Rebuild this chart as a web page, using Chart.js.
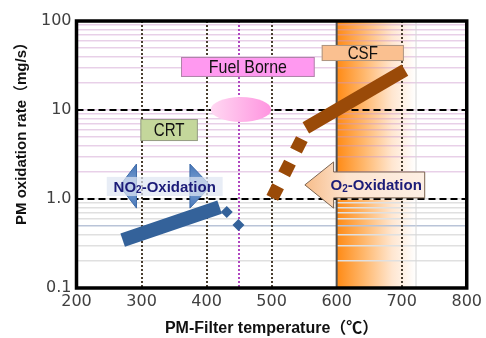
<!DOCTYPE html>
<html>
<head>
<meta charset="utf-8">
<script src="https://cdn.jsdelivr.net/npm/chart.js@4.4.0/dist/chart.umd.min.js"></script>
<style>
  html, body { margin: 0; padding: 0; background: #fff; }
  #wrap { width: 486px; height: 338px; position: relative; }
</style>
</head>
<body>
<div id="wrap"><canvas id="chart"></canvas></div>
<script>
// ---- values ----
const xTicks = [200, 300, 400, 500, 600, 700, 800];
const yMajor = [0.1, 1, 10, 100];
const yMajorLabels = ['0.1', '1.0', '10', '100'];

// NO2 oxidation path (blue bar) and the two loose points
const no2Temp = [271, 420];
const no2Rate = [0.346, 0.813];
const no2PtTemp = [431, 449];
const no2PtRate = [0.714, 0.51];

// O2 oxidation path: dashed rise, then solid bar
const o2DashTemp = [501, 546.5];
const o2DashRate = [1.03, 4.72];
const o2Temp = [552.6, 705];
const o2Rate = [6.28, 28.1];

// reference lines
const refRates = [1, 10];               // black dashed
const refTemps = [300, 400, 500, 700];  // dark dotted
const fuelTemp = [450];                 // purple dotted
const csfBand = [600, 722];             // orange window

// label boxes (data coords)
const boxes = [
  { text: 'Fuel Borne', x: [360.7, 566.3], y: [23.5, 39.4], fill: '#ff99f0', size: 19 },
  { text: 'CSF',        x: [577, 703.4],   y: [35.5, 53.8], fill: '#fac090', size: 18 },
  { text: 'CRT',        x: [298.2, 386.6], y: [4.48, 7.92], fill: '#c4d79b', size: 18 },
];
const fuelEllipse = { x: [406.4, 499.3], y: [7.33, 14.0] };
const no2Arrow = { tips: [266.3, 406.4], backs: [292.2, 374.4], head: [0.79, 2.47], mid: 1.40,
                   box: { x: [246.5, 424.7], y: [1.08, 1.77] } };
const o2Arrow = { tip: 551.1, back: 595.3, end: 735.4, head: [0.79, 2.61], body: [1.03, 2.01], mid: 1.44 };

const BLUE = '#34629a';
const BROWN = '#9a4a08';
const SANS = "'Liberation Sans', Arial, sans-serif";
const BOLD = "'Liberation Sans', Arial, 'Noto Sans CJK JP', sans-serif";

const pts = (xs, ys) => xs.map((x, i) => ({ x, y: ys[i] }));

// minor log grid positions
const yGrid = [];
[0.1, 1, 10].forEach(d => { for (let k = 1; k < 10; k++) yGrid.push(+(d * k).toPrecision(3)); });
yGrid.push(100);

function sub(ctx, parts, cx, cy) {
  // parts: [text, isSubscript]
  const f = p => (p[1] ? 'bold 10px ' : 'bold 15px ') + BOLD;
  let w = 0;
  parts.forEach(p => { ctx.font = f(p); w += ctx.measureText(p[0]).width; });
  let x = cx - w / 2;
  parts.forEach(p => {
    ctx.font = f(p);
    ctx.fillText(p[0], x, p[1] ? cy + 3 : cy);
    x += ctx.measureText(p[0]).width;
  });
}

// narrow text: the original uses a condensed face
function narrowText(ctx, text, cx, cy, sx) {
  ctx.save();
  ctx.translate(cx, cy);
  ctx.scale(sx, 1);
  ctx.fillText(text, 0, 0);
  ctx.restore();
}

const decor = {
  id: 'decor',
  beforeDraw(chart) {
    const { ctx, chartArea: a, scales: { x } } = chart;
    const x0 = x.getPixelForValue(csfBand[0]), x1 = x.getPixelForValue(csfBand[1]);
    const g = ctx.createLinearGradient(x0, 0, x1, 0);
    g.addColorStop(0, '#ff8a14');
    g.addColorStop(0.35, '#ffb86e');
    g.addColorStop(0.7, '#ffe6d0');
    g.addColorStop(1, '#ffffff');
    ctx.save();
    ctx.fillStyle = g;
    ctx.fillRect(x0, a.top, x1 - x0, a.bottom - a.top);
    ctx.restore();
  },
  beforeDatasetsDraw(chart) {
    const { ctx, chartArea: a, scales: { x, y } } = chart;
    ctx.save();
    // band edges
    const bx0 = x.getPixelForValue(csfBand[0]), bx1 = x.getPixelForValue(csfBand[1]);
    ctx.lineWidth = 1;
    ctx.strokeStyle = '#d6d6d6';
    ctx.beginPath(); ctx.moveTo(bx1, a.top); ctx.lineTo(bx1, a.bottom); ctx.stroke();
    ctx.lineWidth = 2;
    ctx.strokeStyle = '#505050';
    ctx.beginPath(); ctx.moveTo(bx0, a.top); ctx.lineTo(bx0, a.bottom); ctx.stroke();

    // dotted verticals
    ctx.setLineDash([2, 2]);
    ctx.lineWidth = 2;
    ctx.strokeStyle = '#4a3f30';
    refTemps.forEach(t => {
      const px = Math.round(x.getPixelForValue(t));
      ctx.beginPath(); ctx.moveTo(px, a.top); ctx.lineTo(px, a.bottom); ctx.stroke();
    });
    ctx.strokeStyle = '#b048c0';
    fuelTemp.forEach(t => {
      const px = Math.round(x.getPixelForValue(t));
      ctx.beginPath(); ctx.moveTo(px, a.top); ctx.lineTo(px, a.bottom); ctx.stroke();
    });
    // dashed horizontals
    ctx.setLineDash([7, 4]);
    ctx.strokeStyle = '#000';
    refRates.forEach(r => {
      const py = y.getPixelForValue(r);
      ctx.beginPath(); ctx.moveTo(a.left, py); ctx.lineTo(a.right, py); ctx.stroke();
    });
    ctx.setLineDash([]);

    // label boxes
    ctx.textAlign = 'center';
    ctx.textBaseline = 'middle';
    boxes.forEach(b => {
      const l = x.getPixelForValue(b.x[0]), r = x.getPixelForValue(b.x[1]);
      const t = y.getPixelForValue(b.y[1]), btm = y.getPixelForValue(b.y[0]);
      ctx.fillStyle = b.fill;
      ctx.fillRect(l, t, r - l, btm - t);
      ctx.lineWidth = 1;
      ctx.strokeStyle = 'rgba(120,120,120,0.6)';
      ctx.strokeRect(l + 0.5, t + 0.5, r - l - 1, btm - t - 1);
      ctx.fillStyle = '#111';
      ctx.font = b.size + 'px ' + SANS;
      narrowText(ctx, b.text, (l + r) / 2, (t + btm) / 2 + 1, 0.84);
    });

    // fuel borne ellipse
    const el = x.getPixelForValue(fuelEllipse.x[0]), er = x.getPixelForValue(fuelEllipse.x[1]);
    const et = y.getPixelForValue(fuelEllipse.y[1]), eb = y.getPixelForValue(fuelEllipse.y[0]);
    const eg = ctx.createLinearGradient(el, 0, er, 0);
    eg.addColorStop(0, '#ffd8f2');
    eg.addColorStop(1, '#ff94e0');
    ctx.fillStyle = eg;
    ctx.beginPath();
    ctx.ellipse((el + er) / 2, (et + eb) / 2, (er - el) / 2, (eb - et) / 2, 0, 0, Math.PI * 2);
    ctx.fill();

    // NO2 double arrow (two heads under a translucent box)
    const hy0 = y.getPixelForValue(no2Arrow.head[1]), hy1 = y.getPixelForValue(no2Arrow.head[0]);
    const my = y.getPixelForValue(no2Arrow.mid);
    [0, 1].forEach(i => {
      const tip = x.getPixelForValue(no2Arrow.tips[i]), back = x.getPixelForValue(no2Arrow.backs[i]);
      const hg = ctx.createLinearGradient(0, hy0, 0, hy1);
      hg.addColorStop(0, '#4676b8');
      hg.addColorStop(0.5, '#7ea2d4');
      hg.addColorStop(1, '#4676b8');
      ctx.fillStyle = hg;
      ctx.beginPath();
      ctx.moveTo(tip, my); ctx.lineTo(back, hy0); ctx.lineTo(back, hy1); ctx.closePath();
      ctx.fill();
      ctx.lineWidth = 1;
      ctx.strokeStyle = '#3d6aa8';
      ctx.stroke();
    });
    const nb = no2Arrow.box;
    const nl = x.getPixelForValue(nb.x[0]), nr = x.getPixelForValue(nb.x[1]);
    const nt = y.getPixelForValue(nb.y[1]), nbt = y.getPixelForValue(nb.y[0]);
    ctx.fillStyle = 'rgba(222,229,242,0.7)';
    ctx.fillRect(nl, nt, nr - nl, nbt - nt);
    ctx.fillStyle = '#1c1c78';
    ctx.textAlign = 'left';
    sub(ctx, [['NO', 0], ['2', 1], ['-Oxidation', 0]], (nl + nr) / 2, (nt + nbt) / 2 + 1);

    // O2 left arrow
    const ot = x.getPixelForValue(o2Arrow.tip), ob = x.getPixelForValue(o2Arrow.back), oe = x.getPixelForValue(o2Arrow.end);
    const oh0 = y.getPixelForValue(o2Arrow.head[1]), oh1 = y.getPixelForValue(o2Arrow.head[0]);
    const ob0 = y.getPixelForValue(o2Arrow.body[1]), ob1 = y.getPixelForValue(o2Arrow.body[0]);
    const om = y.getPixelForValue(o2Arrow.mid);
    const og = ctx.createLinearGradient(ot, 0, oe, 0);
    og.addColorStop(0, '#f7bd8a');
    og.addColorStop(0.35, '#fde4d0');
    og.addColorStop(1, '#fdefe4');
    ctx.fillStyle = og;
    ctx.beginPath();
    ctx.moveTo(ot, om); ctx.lineTo(ob, oh0); ctx.lineTo(ob, ob0); ctx.lineTo(oe, ob0);
    ctx.lineTo(oe, ob1); ctx.lineTo(ob, ob1); ctx.lineTo(ob, oh1); ctx.closePath();
    ctx.fill();
    ctx.lineWidth = 1;
    ctx.strokeStyle = '#7a6350';
    ctx.stroke();
    ctx.fillStyle = '#1c1c78';
    sub(ctx, [['O', 0], ['2', 1], ['-Oxidation', 0]], (ob + oe) / 2 - 3, (ob0 + ob1) / 2 + 1);
    ctx.restore();
  },
  afterDraw(chart) {
    const { ctx, chartArea: a } = chart;
    ctx.save();
    ctx.lineWidth = 3.5;
    ctx.strokeStyle = '#000';
    ctx.strokeRect(a.left, a.top, a.right - a.left, a.bottom - a.top);
    // y axis title
    ctx.translate(22, 130);
    ctx.rotate(-Math.PI / 2);
    ctx.textAlign = 'center';
    ctx.textBaseline = 'middle';
    ctx.fillStyle = '#111';
    ctx.font = 'bold 15px ' + BOLD;
    ctx.fillText('PM oxidation rate（mg/s）', 0, 0);
    ctx.restore();
  }
};

new Chart(document.getElementById('chart'), {
  type: 'line',
  data: {
    datasets: [
      { data: pts(no2Temp, no2Rate), borderColor: BLUE, borderWidth: 14, borderCapStyle: 'butt', pointRadius: 0 },
      { data: pts(no2PtTemp, no2PtRate), showLine: false, pointStyle: 'rectRot', pointRadius: 6,
        backgroundColor: BLUE, borderColor: BLUE, borderWidth: 0 },
      { data: pts(o2DashTemp, o2DashRate), borderColor: BROWN, borderWidth: 13, borderDash: [13, 13.4],
        borderCapStyle: 'butt', pointRadius: 0 },
      { data: pts(o2Temp, o2Rate), borderColor: BROWN, borderWidth: 13, borderCapStyle: 'butt', pointRadius: 0 },
    ]
  },
  options: {
    responsive: true, maintainAspectRatio: false, animation: false,
    layout: { padding: { top: 21, right: 15.5, left: 0, bottom: 0 } },
    plugins: { legend: { display: false }, tooltip: { enabled: false } },
    scales: {
      x: {
        type: 'linear', min: 200, max: 800,
        afterBuildTicks: s => { s.ticks = xTicks.map(v => ({ value: v })); },
        afterFit: s => { s.height = 50; },
        grid: { display: false, drawTicks: false },
        border: { display: false },
        ticks: { color: '#404040', padding: 4, font: { family: "'DejaVu Sans', sans-serif", size: 16 } },
        title: { display: true, text: 'PM-Filter temperature（℃）', color: '#111',
                 padding: { top: 0, bottom: 0 }, font: { family: BOLD, size: 16, weight: 'bold' } }
      },
      y: {
        type: 'logarithmic', min: 0.1, max: 100,
        afterBuildTicks: s => { s.ticks = yGrid.map(v => ({ value: v })); },
        afterFit: s => { s.width = 76.5; },
        grid: {
          drawTicks: false, lineWidth: 1.5,
          color: c => {
            const v = c.tick ? c.tick.value : 0;
            if (v <= 0.1 || v >= 100) return 'rgba(0,0,0,0)';
            if (Math.abs(v - 0.5) < 1e-6) return '#b9c4d8';
            return v > 1 ? 'rgba(205,150,205,0.45)' : '#e0e0e0';
          }
        },
        border: { display: false },
        ticks: {
          autoSkip: false, color: '#404040', padding: 5,
          font: { family: "'DejaVu Sans', sans-serif", size: 16 },
          callback: v => {
            const i = yMajor.findIndex(m => Math.abs(m - v) < 1e-9);
            return i >= 0 ? yMajorLabels[i] : '';
          }
        }
      }
    }
  },
  plugins: [decor]
});
</script>
</body>
</html>
